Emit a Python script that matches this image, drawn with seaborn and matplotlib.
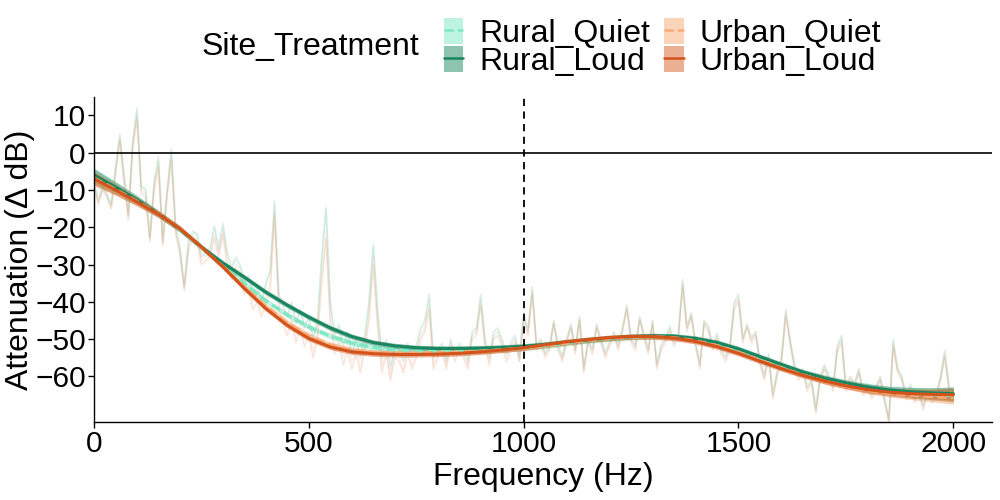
import matplotlib
matplotlib.use("Agg")
import matplotlib.pyplot as plt
from matplotlib.lines import Line2D
from matplotlib.patches import Patch
import numpy as np
import pandas as pd
import seaborn as sns

sns.set_theme(style="ticks")
plt.rcParams["font.family"] = ["Liberation Sans", "DejaVu Sans"]
plt.rcParams["text.color"] = "black"
plt.rcParams["axes.labelcolor"] = "black"

groups = ["Rural_Quiet", "Rural_Loud", "Urban_Quiet", "Urban_Loud"]
line_colors = {
    "Rural_Quiet": "#7de8c3",
    "Rural_Loud": "#1b8560",
    "Urban_Quiet": "#fbab77",
    "Urban_Loud": "#d4531a",
}
fill_colors = {
    "Rural_Quiet": "#7de8c3",
    "Rural_Loud": "#1b8a62",
    "Urban_Quiet": "#fbab77",
    "Urban_Loud": "#d9622a",
}
dash_map = {"Rural_Quiet": (3, 1.5), "Rural_Loud": "", "Urban_Quiet": (3, 1.5), "Urban_Loud": ""}

# raw attenuation traces, every 10 Hz from 0 to 2000
raw_freq = list(range(0, 2001, 10))
raw_rural_quiet = [
    -8, -12, -9, -12, -14, -5, 4, -7, -16, 2,
    11, -10, -9, -22, -8, -2, -23, -11, 0, -19,
    -25, -35, -23, -22, -21, -27, -28, -25, -19, -25,
    -20, -26, -30, -29, -31, -34, -34, -37, -37, -39,
    -36, -31, -14, -37, -42, -43, -41, -45, -43, -46,
    -45, -49, -46, -29, -14, -41, -48, -47, -51, -49,
    -53, -51, -54, -50, -41, -24, -43, -54, -51, -57,
    -53, -52, -55, -52, -54, -53, -48, -46, -39, -54,
    -52, -52, -55, -51, -53, -52, -52, -55, -49, -48,
    -39, -51, -54, -49, -48, -51, -53, -52, -50, -54,
    -44, -47, -37, -51, -51, -53, -53, -46, -51, -54,
    -51, -47, -52, -45, -57, -51, -52, -47, -51, -53,
    -50, -49, -51, -48, -42, -49, -51, -45, -48, -52,
    -46, -56, -51, -49, -46, -50, -48, -35, -46, -44,
    -50, -56, -46, -46, -51, -48, -52, -54, -51, -41,
    -39, -49, -47, -49, -49, -55, -59, -55, -64, -58,
    -56, -43, -51, -56, -59, -59, -62, -60, -68, -61,
    -58, -59, -62, -53, -50, -62, -61, -61, -59, -63,
    -61, -64, -62, -61, -65, -71, -51, -57, -61, -64,
    -63, -65, -65, -67, -65, -65, -64, -61, -54, -62,
    -65,
]
raw_rural_loud = [
    -8, -13, -9, -11, -14, -4, 5, -6, -17, 3,
    12, -9, -10, -23, -8, -1, -24, -10, 1, -20,
    -26, -36, -24, -21, -22, -28, -27, -26, -20, -26,
    -19, -27, -31, -28, -30, -35, -33, -38, -36, -40,
    -35, -32, -13, -38, -41, -44, -40, -46, -42, -47,
    -44, -50, -45, -28, -15, -40, -49, -46, -52, -48,
    -54, -50, -55, -49, -40, -25, -42, -55, -50, -58,
    -52, -53, -56, -51, -55, -52, -47, -45, -38, -55,
    -53, -51, -56, -50, -54, -51, -53, -56, -48, -47,
    -38, -50, -55, -48, -47, -50, -54, -51, -49, -55,
    -43, -48, -36, -52, -50, -54, -52, -45, -52, -55,
    -50, -46, -53, -44, -58, -50, -53, -46, -50, -54,
    -51, -48, -52, -47, -41, -50, -52, -44, -49, -53,
    -45, -57, -52, -50, -47, -51, -49, -34, -47, -43,
    -51, -57, -45, -47, -52, -49, -53, -55, -52, -40,
    -38, -50, -46, -50, -48, -56, -60, -54, -65, -59,
    -55, -42, -50, -57, -60, -58, -63, -61, -69, -60,
    -57, -60, -63, -52, -49, -63, -60, -62, -58, -64,
    -62, -65, -63, -60, -66, -72, -50, -58, -60, -65,
    -62, -66, -64, -68, -64, -66, -65, -60, -53, -63,
    -64,
]
raw_urban_quiet = [
    -9, -13, -10, -11, -15, -5, 4, -7, -17, 2,
    10, -10, -11, -23, -9, -3, -24, -11, -1, -21,
    -26, -36, -25, -22, -23, -29, -28, -27, -22, -27,
    -21, -29, -33, -30, -32, -37, -36, -40, -39, -42,
    -38, -35, -16, -40, -44, -47, -43, -49, -45, -50,
    -47, -53, -48, -33, -21, -44, -52, -49, -55, -51,
    -56, -53, -57, -52, -43, -28, -45, -57, -53, -60,
    -54, -55, -58, -53, -57, -54, -49, -47, -41, -57,
    -54, -52, -57, -51, -55, -52, -54, -57, -49, -48,
    -40, -51, -56, -49, -48, -51, -55, -52, -50, -56,
    -44, -48, -37, -52, -50, -54, -52, -45, -52, -55,
    -50, -46, -53, -44, -58, -50, -53, -46, -50, -54,
    -51, -48, -52, -47, -41, -50, -52, -44, -49, -53,
    -45, -57, -52, -50, -47, -51, -49, -35, -47, -43,
    -51, -57, -45, -47, -52, -49, -53, -55, -52, -41,
    -39, -50, -46, -50, -48, -56, -60, -54, -65, -59,
    -55, -43, -50, -57, -60, -58, -63, -61, -69, -60,
    -57, -60, -63, -52, -50, -63, -60, -62, -58, -64,
    -62, -65, -63, -60, -66, -72, -51, -58, -60, -65,
    -63, -66, -64, -68, -64, -66, -65, -61, -54, -63,
    -65,
]
raw_urban_loud = [
    -9, -14, -10, -12, -15, -6, 3, -8, -18, 1,
    9, -11, -12, -24, -10, -4, -25, -12, -2, -22,
    -27, -37, -26, -23, -24, -30, -29, -28, -23, -28,
    -22, -30, -34, -31, -33, -38, -37, -42, -40, -44,
    -40, -37, -17, -42, -46, -49, -45, -51, -47, -52,
    -49, -55, -50, -35, -23, -46, -54, -51, -57, -53,
    -58, -54, -59, -53, -45, -30, -47, -59, -54, -61,
    -55, -56, -59, -54, -58, -55, -50, -48, -42, -58,
    -55, -53, -58, -52, -56, -53, -55, -58, -50, -49,
    -41, -52, -57, -50, -49, -52, -56, -53, -51, -56,
    -45, -49, -38, -53, -51, -55, -53, -46, -53, -56,
    -51, -47, -54, -45, -59, -51, -54, -47, -51, -55,
    -52, -49, -53, -48, -42, -51, -53, -45, -50, -54,
    -46, -58, -53, -51, -48, -52, -50, -36, -48, -44,
    -52, -58, -46, -48, -53, -50, -54, -56, -53, -42,
    -40, -51, -47, -51, -49, -57, -61, -55, -66, -60,
    -56, -44, -51, -58, -61, -59, -64, -62, -70, -61,
    -58, -61, -64, -53, -51, -64, -61, -63, -59, -65,
    -63, -66, -64, -61, -67, -72, -52, -59, -61, -66,
    -63, -67, -65, -69, -65, -67, -66, -61, -55, -64,
    -65,
]

# smoothed fits, every 50 Hz
smooth_freq = list(range(0, 2001, 50))
fit_rural_quiet = [
    -6.5, -9.6, -12.9, -16.5, -20.6, -25.5, -30.3, -35.0, -39.7, -43.5,
    -46.7, -49.2, -51.0, -52.2, -52.9, -53.2, -53.3, -53.3, -53.1, -52.8,
    -52.4, -51.8, -51.1, -50.4, -49.9, -49.5, -49.3, -49.4, -50.0, -51.2,
    -52.9, -55.0, -57.1, -59.0, -60.7, -62.0, -63.1, -63.9, -64.5, -64.9,
    -65.2,
]
fit_rural_loud = [
    -6.0, -9.2, -12.6, -16.4, -20.5, -25.3, -29.6, -33.4, -37.4, -40.9,
    -44.1, -47.0, -49.3, -50.9, -51.8, -52.3, -52.5, -52.5, -52.4, -52.2,
    -51.9, -51.4, -50.8, -50.2, -49.7, -49.3, -49.1, -49.2, -49.8, -50.9,
    -52.6, -54.7, -56.8, -58.8, -60.4, -61.7, -62.8, -63.6, -64.1, -64.4,
    -64.6,
]
fit_urban_quiet = [
    -6.8, -9.8, -13.0, -16.4, -20.4, -25.4, -30.5, -36.0, -41.1, -45.6,
    -49.1, -51.5, -52.9, -53.5, -53.7, -53.7, -53.6, -53.5, -53.2, -52.8,
    -52.4, -51.7, -51.0, -50.3, -49.8, -49.4, -49.3, -49.6, -50.4, -51.7,
    -53.5, -55.6, -57.7, -59.6, -61.2, -62.6, -63.7, -64.5, -65.0, -65.4,
    -65.7,
]
fit_urban_loud = [
    -7.0, -10.0, -13.2, -16.5, -20.4, -25.3, -30.6, -36.4, -41.8, -46.3,
    -49.8, -52.1, -53.4, -53.9, -54.1, -54.1, -54.0, -53.8, -53.4, -52.9,
    -52.3, -51.5, -50.7, -50.1, -49.6, -49.3, -49.3, -49.7, -50.6, -52.0,
    -53.8, -55.9, -57.9, -59.7, -61.2, -62.5, -63.5, -64.2, -64.6, -64.8,
    -64.9,
]
# half width of the confidence band
fit_halfwidth = [
    1.8, 1.4, 1.1, 0.9, 0.8, 0.7, 0.7, 0.7, 0.7, 0.7,
    0.7, 0.7, 0.7, 0.7, 0.7, 0.7, 0.7, 0.7, 0.7, 0.7,
    0.7, 0.7, 0.7, 0.7, 0.7, 0.7, 0.7, 0.7, 0.7, 0.7,
    0.7, 0.7, 0.7, 0.7, 0.8, 0.8, 0.9, 1.0, 1.2, 1.4,
    1.8,
]

raw = {"Rural_Quiet": raw_rural_quiet, "Rural_Loud": raw_rural_loud,
       "Urban_Quiet": raw_urban_quiet, "Urban_Loud": raw_urban_loud}
fits = {"Rural_Quiet": fit_rural_quiet, "Rural_Loud": fit_rural_loud,
        "Urban_Quiet": fit_urban_quiet, "Urban_Loud": fit_urban_loud}

raw_df = pd.concat(
    [pd.DataFrame({"freq": raw_freq, "atten": raw[g], "Site_Treatment": g}) for g in groups]
)
fit_df = pd.concat(
    [pd.DataFrame({"freq": smooth_freq, "atten": fits[g], "Site_Treatment": g}) for g in groups]
)

fig, ax = plt.subplots(figsize=(10, 5), dpi=100)
fig.subplots_adjust(left=0.094, right=0.992, bottom=0.156, top=0.806)

sns.lineplot(data=raw_df, x="freq", y="atten", hue="Site_Treatment", hue_order=groups,
             palette=line_colors, estimator=None, alpha=0.14, linewidth=1.2,
             legend=False, ax=ax)

hw = np.array(fit_halfwidth)
for g in groups:
    y = np.array(fits[g])
    ax.fill_between(smooth_freq, y - hw, y + hw, color=fill_colors[g], alpha=0.5, linewidth=0)

sns.lineplot(data=fit_df, x="freq", y="atten", hue="Site_Treatment", hue_order=groups,
             style="Site_Treatment", style_order=groups, dashes=dash_map,
             palette=line_colors, estimator=None, linewidth=2.2, legend=False, ax=ax)

ax.axhline(0, color="black", linewidth=1.2)
ax.axvline(1000, color="black", linewidth=1.3, linestyle=(0, (4, 3)))

ax.set_xlim(0, 2090)
ax.set_ylim(-72.2, 14.9)
ax.set_xticks([0, 500, 1000, 1500, 2000])
ax.set_yticks([10, 0, -10, -20, -30, -40, -50, -60])
ax.set_xlabel("Frequency (Hz)", fontsize=23, color="black", labelpad=3)
ax.set_ylabel("Attenuation (\u0394 dB)", fontsize=23, color="black")
ax.yaxis.set_label_coords(-0.0655, 0.5)
ax.tick_params(axis="both", labelsize=21.5, colors="black", length=4, width=1.0, pad=2)
for s in ["left", "bottom"]:
    ax.spines[s].set_color("black")
    ax.spines[s].set_linewidth(1.0)
sns.despine(ax=ax)

handles = []
for g in groups:
    handles.append((Patch(facecolor=fill_colors[g], alpha=0.5, edgecolor="none"),
                    Line2D([], [], color=line_colors[g], linewidth=1.8,
                           linestyle="--" if "Quiet" in g else "-")))
fig.legend(handles, groups, ncol=2, loc="center left", bbox_to_anchor=(0.428, 0.905),
           frameon=False, fontsize=23, handlelength=0.6, handleheight=0.9,
           handletextpad=0.5, columnspacing=0.45, labelspacing=-0.1, borderpad=0)
fig.text(0.202, 0.906, "Site_Treatment", fontsize=23, va="center", ha="left")

fig.savefig("out.png", dpi=100)
